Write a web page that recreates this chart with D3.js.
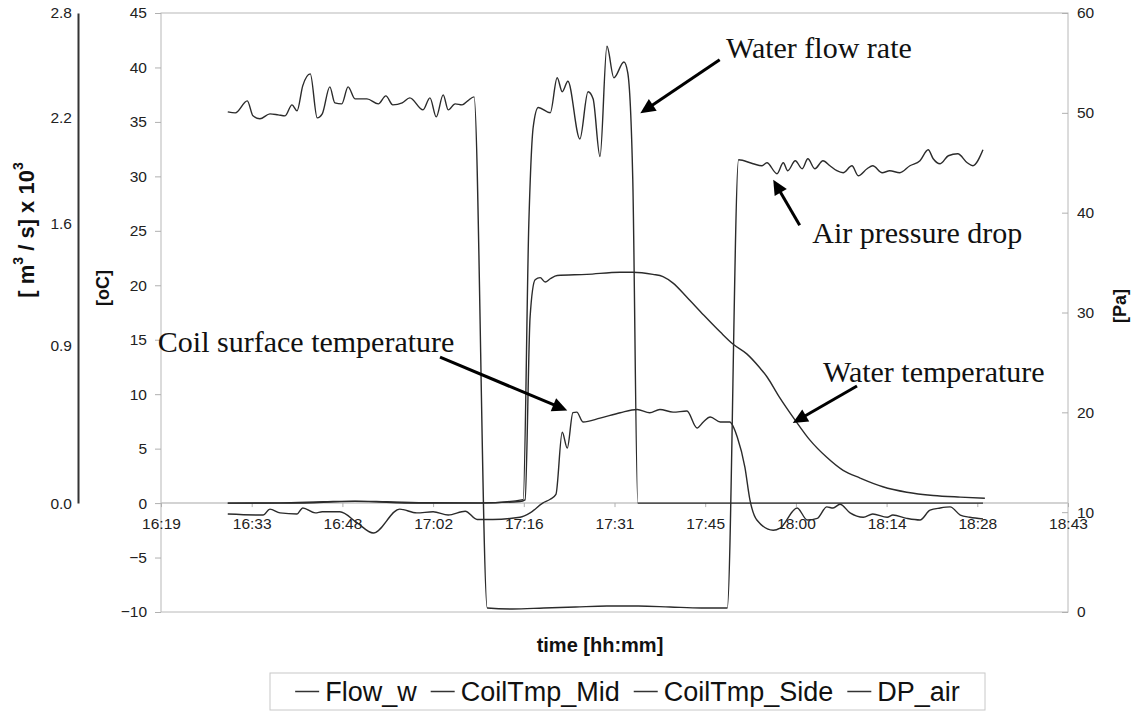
<!DOCTYPE html>
<html>
<head>
<meta charset="utf-8">
<script src="https://cdn.jsdelivr.net/npm/d3@7"></script>
<style>
  body { margin: 0; background: #fff; }
  svg { display: block; font-family: "Liberation Sans", Arial, sans-serif; }
  .tick text { font-size: 15.5px; fill: #222; }
  .axis-title { font-size: 18px; font-weight: bold; fill: #111; }
  .note { font-family: "Liberation Serif", "Times New Roman", serif; font-size: 30px; fill: #111; }
  .series { fill: none; stroke: #2b2b2b; stroke-width: 1.4; }
  .legend text { font-size: 27px; fill: #111; }
</style>
</head>
<body>
<div class="display"></div>
<script>
// Coil test run, time in minutes after 16:00

const WIDTH = 1141;
const HEIGHT = 711;
const PLOT = { left: 161, right: 1068, top: 13, bottom: 612 };

// x axis: Excel time axis, major unit 0.01 day (14.4 min)
const timeTicks = [19.2, 33.6, 48, 62.4, 76.8, 91.2, 105.6, 120, 134.4, 148.8, 163.2];
const timeTickLabels = ['16:19', '16:33', '16:48', '17:02', '17:16', '17:31', '17:45', '18:00', '18:14', '18:28', '18:43'];
const tempTicks = [-10, -5, 0, 5, 10, 15, 20, 25, 30, 35, 40, 45];
const paTicks = [0, 10, 20, 30, 40, 50, 60];
const flowTicks = [0.0, 0.9, 1.6, 2.2, 2.8];

const legendNames = ['Flow_w', 'CoilTmp_Mid', 'CoilTmp_Side', 'DP_air'];

// [minutes after 16:00, m3/s x 10^3]
const flowW = [[29.8, 0], [40, 0], [50, 0.01], [60, 0], [70, 0], [76.7, 0.02], [77.6, 1.6], [78.3, 2.15],
  [79.1, 2.26], [81.0, 2.23], [82.1, 2.43], [82.9, 2.35], [83.8, 2.41], [85.7, 2.08], [87.0, 2.35],
  [87.8, 2.31], [88.9, 1.98], [90.0, 2.61], [91.1, 2.43], [92.7, 2.52], [93.3, 2.46], [94.1, 1.85],
  [94.9, 0], [100, 0], [110, 0], [120, 0], [130, 0], [140, 0], [149.7, 0]];

// [minutes, oC]  water temperature
const coilTmpMid = [[29.8, 0], [38, 0.02], [45, 0.12], [50, 0.18], [55, 0.12], [62, 0.03], [70, 0.02],
  [76.2, 0.15], [77.0, 0.3], [77.8, 17.1], [78.6, 20.5], [79.4, 20.7], [80.2, 20.3], [81.0, 20.6],
  [82.1, 20.9], [86.8, 21.0], [92.1, 21.2], [94.1, 21.2], [97.3, 21.0], [98.9, 20.8], [100.5, 20.2],
  [102.7, 18.9], [105.3, 17.3], [108.0, 15.7], [110.0, 14.6], [112.2, 13.7], [114.3, 12.4], [115.4, 11.6],
  [117.3, 9.8], [119.9, 7.6], [122.2, 5.8], [124.9, 4.2], [127.5, 3.0], [130.2, 2.3], [133.8, 1.5],
  [137.6, 1.0], [141.8, 0.7], [146.1, 0.55], [150.0, 0.45]];

// [minutes, oC]  coil surface temperature
const coilTmpSide = [[29.8, -1.0], [35.4, -1.1], [36.5, -0.55], [38.1, -0.9], [40.8, -1.0], [41.7, -0.45],
  [43.7, -0.9], [44.8, -0.8], [47.6, -0.8], [50.3, -1.8], [52.9, -2.75], [57.1, -0.55], [59.8, -0.9],
  [62.4, -0.8], [64.8, -1.1], [67.5, -0.75], [69.4, -1.5], [71.9, -1.5], [76.2, -1.3], [77.8, -0.9],
  [79.8, 0], [81.0, 0.35], [81.9, 0.8], [82.9, 6.5], [83.7, 5.05], [84.6, 8.3], [85.2, 8.35], [86.2, 7.45],
  [88.9, 7.8], [92.1, 8.3], [94.8, 8.6], [96.8, 8.3], [98.4, 8.6], [100.5, 8.35], [102.7, 8.45],
  [104.3, 6.9], [105.3, 7.45], [106.4, 7.9], [108.0, 7.45], [109.5, 7.45], [110.7, 6.05], [111.9, 3.3],
  [112.7, 0.3], [113.8, -1.55], [116.4, -2.5], [117.5, -2.3], [120.2, -0.45], [121.8, -1.55],
  [123.4, -1.4], [124.9, -0.35], [125.9, -0.45], [127.0, -0.1], [128.6, -0.9], [130.7, -1.3],
  [132.2, -1.0], [134.5, -1.3], [135.4, -1.1], [137.6, -1.4], [139.7, -1.55], [141.3, -0.65],
  [142.9, -0.45], [144.5, -0.35], [146.1, -1.1], [147.6, -1.3], [149.7, -1.45]];

// [minutes, Pa]
const dpAir = [[29.8, 50.1], [31.0, 50.0], [32.9, 51.2], [33.8, 49.7], [34.9, 49.4], [36.5, 49.9],
  [37.8, 49.8], [38.9, 49.7], [40.0, 50.8], [40.8, 50.2], [41.7, 52.7], [42.9, 53.9], [44.0, 49.5],
  [44.8, 49.9], [46.0, 52.6], [46.8, 51.0], [47.9, 50.9], [48.9, 52.6], [50.0, 51.4], [51.9, 51.4],
  [53.7, 50.9], [54.9, 51.7], [56.0, 50.8], [57.5, 51.0], [58.7, 51.5], [60.8, 50.3], [61.9, 51.5],
  [62.9, 49.6], [64.0, 51.8], [64.8, 50.3], [65.9, 50.9], [67.0, 50.8], [67.9, 51.2], [68.9, 51.6],
  [71.0, 0.4], [75, 0.3], [80, 0.4], [85, 0.5], [90, 0.6], [95, 0.6], [100, 0.5], [105, 0.4],
  [109.1, 0.4], [110.9, 45.3], [113.2, 44.9], [114.6, 44.7], [115.4, 45.0], [117.0, 43.9], [118.0, 45.0],
  [118.7, 44.2], [119.9, 45.2], [121.0, 44.4], [121.9, 45.4], [123.0, 44.4], [124.3, 45.2], [125.4, 44.7],
  [126.5, 44.2], [127.5, 44.0], [128.9, 44.7], [129.9, 43.7], [131.3, 44.4], [132.2, 44.7], [133.7, 44.0],
  [134.9, 44.2], [136.5, 44.0], [138.1, 44.7], [139.7, 45.2], [141.0, 46.3], [141.8, 45.4], [142.9, 44.9],
  [144.2, 45.7], [145.7, 45.9], [147.2, 45.0], [148.1, 44.7], [149.7, 46.3]];

// annotations in [minutes, oC]: text anchor, arrow tail, arrow tip
const noteTexts = ['Water flow rate', 'Air pressure drop', 'Coil surface temperature', 'Water temperature'];
const noteAnchors = [[108.9, 40.9], [122.6, 23.9], [18.7, 13.9], [124.3, 11.1]];
const arrowTails = [[107.9, 40.7], [120.6, 25.5], [63.5, 13.4], [129.7, 10.75]];
const arrowTips = [[95.3, 35.8], [116.4, 29.7], [83.7, 8.5], [119.5, 7.35]];

let svg, x, yTemp, yPa, yFlow;

function setupSvg() {
  svg = d3.select('.display')
    .append('svg')
    .attr('width', WIDTH)
    .attr('height', HEIGHT);

  x = d3.scaleLinear().domain([19.2, 163.2]).range([PLOT.left, PLOT.right]);
  yTemp = d3.scaleLinear().domain([-10, 45]).range([PLOT.bottom, PLOT.top]);
  yPa = d3.scaleLinear().domain([0, 60]).range([PLOT.bottom, PLOT.top]);
  yFlow = d3.scaleLinear().domain([0, 2.8]).range([yTemp(0), PLOT.top]);
}

function drawAxes() {
  svg.append('rect')
    .attr('x', PLOT.left).attr('y', PLOT.top)
    .attr('width', PLOT.right - PLOT.left).attr('height', PLOT.bottom - PLOT.top)
    .attr('fill', 'none').attr('stroke', '#b8b8b8');

  svg.append('line')
    .attr('x1', PLOT.left).attr('x2', PLOT.right)
    .attr('y1', yTemp(0)).attr('y2', yTemp(0))
    .attr('stroke', '#c4c4c4').attr('stroke-width', 1.5);

  const tempAxis = svg.append('g')
    .attr('transform', `translate(${PLOT.left},0)`)
    .call(d3.axisLeft(yTemp).tickValues(tempTicks).tickSize(6).tickPadding(8));

  const paAxis = svg.append('g')
    .attr('transform', `translate(${PLOT.right},0)`)
    .call(d3.axisRight(yPa).tickValues(paTicks).tickSize(-6).tickPadding(9));

  const timeAxis = svg.append('g')
    .attr('transform', `translate(0,${yTemp(0)})`)
    .call(d3.axisBottom(x).tickValues(timeTicks).tickFormat((d, i) => timeTickLabels[i]).tickSize(4).tickPadding(11));

  [tempAxis, paAxis, timeAxis].forEach(a => {
    a.select('.domain').remove();
    a.selectAll('.tick line').attr('stroke', '#b0b0b0');
  });

  const flowAxis = svg.append('g')
    .attr('transform', 'translate(78,0)')
    .call(d3.axisLeft(yFlow).tickValues(flowTicks).tickFormat(d3.format('.1f')).tickSize(0).tickPadding(6));
  flowAxis.select('.domain').attr('stroke', '#333').attr('stroke-width', 2);

  svg.selectAll('.tick text').attr('font-family', null).attr('font-size', null);

  const flowTitle = svg.append('text')
    .attr('class', 'axis-title')
    .attr('transform', 'translate(26,230) rotate(-90)')
    .attr('text-anchor', 'middle')
    .attr('dominant-baseline', 'central')
    .style('font-size', '22px');
  flowTitle.append('tspan').text('[ m');
  flowTitle.append('tspan').text('3').attr('baseline-shift', 'super').style('font-size', '14px');
  flowTitle.append('tspan').text(' / s] x 10');
  flowTitle.append('tspan').text('3').attr('baseline-shift', 'super').style('font-size', '14px');

  svg.append('text')
    .attr('class', 'axis-title')
    .attr('transform', 'translate(103,288) rotate(-90)')
    .attr('text-anchor', 'middle')
    .attr('dominant-baseline', 'central')
    .text('[oC]');

  svg.append('text')
    .attr('class', 'axis-title')
    .attr('transform', 'translate(1120,306) rotate(-90)')
    .attr('text-anchor', 'middle')
    .attr('dominant-baseline', 'central')
    .text('[Pa]');

  svg.append('text')
    .attr('class', 'axis-title')
    .attr('x', 600).attr('y', 645)
    .attr('text-anchor', 'middle')
    .attr('dominant-baseline', 'central')
    .style('font-size', '20px')
    .text('time [hh:mm]');
}

function drawSeries() {
  const plots = [
    { data: flowW, y: yFlow },
    { data: coilTmpMid, y: yTemp },
    { data: coilTmpSide, y: yTemp },
    { data: dpAir, y: yPa }
  ];
  plots.forEach(p => {
    const line = d3.line()
      .x(d => x(d[0]))
      .y(d => p.y(d[1]))
      .curve(d3.curveMonotoneX);
    svg.append('path')
      .attr('class', 'series')
      .attr('d', line(p.data));
  });
}

function drawNotes() {
  noteTexts.forEach((t, i) => {
    svg.append('text')
      .attr('class', 'note')
      .attr('x', x(noteAnchors[i][0]))
      .attr('y', yTemp(noteAnchors[i][1]))
      .text(t);

    const x1 = x(arrowTails[i][0]), y1 = yTemp(arrowTails[i][1]);
    const x2 = x(arrowTips[i][0]), y2 = yTemp(arrowTips[i][1]);
    const ang = Math.atan2(y2 - y1, x2 - x1);
    const headLen = 15, headHalf = 7;
    const bx = x2 - headLen * Math.cos(ang), by = y2 - headLen * Math.sin(ang);

    svg.append('line')
      .attr('x1', x1).attr('y1', y1)
      .attr('x2', bx + 2 * Math.cos(ang)).attr('y2', by + 2 * Math.sin(ang))
      .attr('stroke', '#000').attr('stroke-width', 3);

    const head = [
      [x2, y2],
      [bx + headHalf * Math.sin(ang), by - headHalf * Math.cos(ang)],
      [bx - headHalf * Math.sin(ang), by + headHalf * Math.cos(ang)]
    ];
    svg.append('path')
      .attr('d', 'M' + head.map(p => p.join(',')).join('L') + 'Z')
      .attr('fill', '#000');
  });
}

function drawLegend() {
  const box = { x1: 270, x2: 985, y1: 673, y2: 710 };
  const legend = svg.append('g').attr('class', 'legend');
  legend.append('rect')
    .attr('x', box.x1).attr('y', box.y1)
    .attr('width', box.x2 - box.x1).attr('height', box.y2 - box.y1)
    .attr('fill', '#fff').attr('stroke', '#c8c8c8');

  const cy = (box.y1 + box.y2) / 2;
  const items = legend.selectAll('.item')
    .data(legendNames)
    .enter()
    .append('g')
    .attr('class', 'item');
  items.append('line')
    .attr('x1', 0).attr('x2', 24)
    .attr('y1', cy).attr('y2', cy)
    .attr('stroke', '#333').attr('stroke-width', 1.5);
  items.append('text')
    .attr('x', 30).attr('y', cy)
    .attr('dominant-baseline', 'central')
    .text(d => d);

  const widths = [];
  items.select('text').each(function() { widths.push(this.getComputedTextLength()); });
  const gap = 14;
  const total = d3.sum(widths) + widths.length * 30 + (widths.length - 1) * gap;
  let cursor = (box.x1 + box.x2) / 2 - total / 2;
  items.attr('transform', (d, i) => {
    const tx = cursor;
    cursor += 30 + widths[i] + gap;
    return `translate(${tx},0)`;
  });
}

setupSvg();
drawAxes();
drawSeries();
drawNotes();
drawLegend();
</script>
</body>
</html>
